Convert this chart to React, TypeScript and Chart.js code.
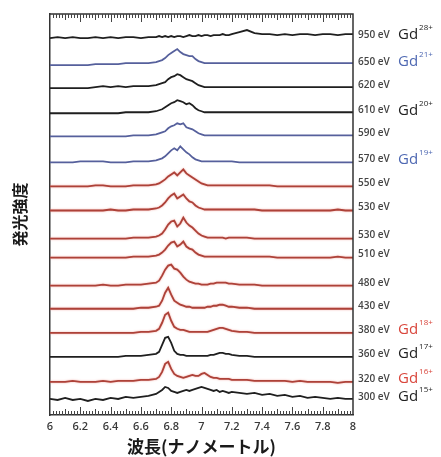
import React, { useEffect, useRef } from 'react';
import { Chart, registerables } from 'chart.js';

Chart.register(...registerables);

// Shared wavelength grid (nm)
const WAVELENGTH_NM = [
  6.0, 6.05, 6.1, 6.15, 6.2, 6.25, 6.3, 6.35, 6.4, 6.45, 6.5, 6.55, 6.6, 6.65,
  6.7, 6.72, 6.74, 6.76, 6.78, 6.8, 6.82, 6.84, 6.86, 6.88, 6.9, 6.92, 6.94, 6.96, 6.98, 7.0, 7.02, 7.04, 7.06, 7.08, 7.1, 7.12, 7.14, 7.16, 7.18, 7.2,
  7.25, 7.3, 7.35, 7.4, 7.45, 7.5, 7.55, 7.6, 7.65, 7.7, 7.75, 7.8, 7.85, 7.9, 7.95, 8.0,
];

// Electron beam energies, top to bottom
const ENERGY_LABELS = [
  '950 eV', '650 eV', '620 eV', '610 eV', '590 eV', '570 eV', '550 eV', '530 eV',
  '530 eV', '510 eV', '480 eV', '430 eV', '380 eV', '360 eV', '320 eV', '300 eV',
];

// Vertical stacking offsets (arbitrary intensity units)
const STACK_OFFSETS = [376, 349, 326, 301, 278, 252, 228, 204, 176, 157, 129, 106, 82, 58, 33, 15];

// Emission intensity above each trace's baseline
const I_950 = [
  0, 1, 0, 1, 0, 0, 1, 0, 1, 0, 1, 1, 0, 1,
  1, 2, 1, 2, 1, 2, 1, 2, 2, 1, 2, 3, 2, 2, 3, 2, 3, 3, 2, 3, 3, 3, 4, 3, 3, 4,
  6, 8, 5, 4, 4, 3, 4, 3, 4, 4, 3, 4, 4, 3, 4, 4,
];
const I_650 = [
  0, 0, 0, 0, 0, 0, 1, 1, 1, 1, 2, 2, 2, 2,
  3, 4, 5, 7, 10, 12, 14, 16, 13, 11, 10, 9, 9, 6, 4, 3, 2, 2, 2, 2, 2, 2, 2, 2, 2, 2,
  2, 2, 2, 2, 2, 2, 2, 2, 2, 2, 2, 2, 2, 2, 2, 2,
];
const I_620 = [
  0, 0, 0, 0, 0, 0, 1, 2, 1, 2, 1, 2, 2, 2,
  3, 4, 5, 6, 9, 11, 12, 14, 13, 11, 9, 8, 7, 5, 3, 2, 1, 1, 1, 1, 1, 1, 1, 1, 1, 1,
  1, 1, 1, 1, 1, 1, 1, 1, 1, 1, 1, 1, 1, 1, 1, 1,
];
const I_610 = [
  0, 0, 0, 0, 0, 0, 0, 0, 0, 0, 1, 1, 1, 1,
  2, 3, 4, 6, 8, 10, 11, 13, 12, 11, 9, 10, 8, 5, 3, 2, 1, 1, 1, 1, 1, 1, 1, 1, 1, 1,
  1, 1, 1, 1, 1, 1, 1, 1, 1, 1, 1, 1, 1, 1, 1, 1,
];
const I_590 = [
  0, 0, 0, 0, 0, 0, 0, 0, 0, 0, 0, 1, 1, 1,
  2, 3, 4, 5, 8, 10, 11, 13, 12, 13, 9, 8, 7, 5, 3, 2, 1, 1, 1, 1, 1, 1, 1, 1, 1, 1,
  1, 1, 1, 1, 1, 1, 1, 1, 1, 1, 1, 1, 1, 1, 1, 1,
];
const I_570 = [
  0, 0, 0, 0, 1, 1, 1, 1, 0, 0, 0, 1, 1, 1,
  2, 3, 4, 6, 9, 12, 14, 12, 16, 13, 10, 8, 5, 3, 2, 1, 1, 1, 1, 1, 1, 1, 1, 1, 1, 1,
  0, 0, 0, 0, 0, 0, 0, 0, 0, 0, 0, 0, 0, 0, 0, 0,
];
const I_550 = [
  0, 0, 0, 0, 0, 0, 1, 1, 0, 0, 0, 1, 1, 1,
  2, 3, 5, 7, 10, 12, 14, 11, 14, 17, 13, 11, 9, 7, 5, 3, 2, 1, 1, 1, 1, 1, 1, 1, 1, 1,
  1, 1, 1, 1, 1, 0, 0, 0, 0, 0, 0, 0, 0, 0, 0, 0,
];
const I_530A = [
  0, 0, 0, 0, 0, 0, 0, 0, 1, 0, 0, 1, 1, 1,
  2, 3, 5, 8, 12, 15, 17, 12, 14, 16, 12, 9, 8, 5, 3, 2, 1, 1, 1, 1, 1, 1, 1, 1, 1, 1,
  1, 1, 1, 0, 0, 0, 0, 0, 0, 0, 0, 0, 0, 1, 0, 0,
];
const I_530B = [
  0, 0, 0, 0, 0, 0, 0, 0, 0, 0, 0, 1, 1, 1,
  2, 3, 5, 9, 14, 17, 18, 12, 15, 21, 16, 13, 11, 8, 5, 3, 2, 1, 1, 1, 1, 1, 1, 0, 1, 1,
  1, 1, 0, 0, 0, 0, 0, 0, 0, 0, 0, 0, 0, 0, 0, 0,
];
const I_510 = [
  0, 0, 0, 0, 0, 0, 0, 0, 0, 0, 0, 1, 1, 1,
  2, 3, 5, 8, 12, 15, 16, 11, 13, 16, 11, 9, 8, 5, 3, 2, 1, 1, 1, 1, 1, 1, 1, 1, 1, 1,
  1, 1, 1, 1, 1, 0, 0, 0, 0, 0, 0, 0, 0, 1, 0, 0,
];
const I_480 = [
  0, 0, 0, 0, 0, 0, 0, 1, 0, 0, 1, 1, 1, 2,
  3, 5, 10, 16, 20, 21, 17, 16, 13, 9, 6, 4, 3, 2, 2, 1, 1, 1, 2, 2, 3, 3, 3, 3, 2, 2,
  1, 1, 1, 0, 0, 0, 0, 0, 0, 0, 0, 0, 0, 0, 0, 0,
];
const I_430 = [
  0, 0, 0, 0, 0, 0, 0, 0, 0, 0, 0, 0, 1, 1,
  2, 3, 8, 16, 21, 14, 8, 6, 4, 3, 2, 2, 1, 1, 1, 1, 1, 2, 2, 3, 3, 4, 4, 3, 2, 2,
  1, 1, 0, 0, 0, 0, 0, 0, 0, 0, 0, 0, 0, 0, 0, 0,
];
const I_380 = [
  0, 0, 0, 0, 0, 0, 0, 0, 0, 0, 0, 0, 1, 1,
  2, 4, 10, 18, 20, 12, 6, 4, 3, 3, 2, 1, 1, 1, 1, 1, 1, 1, 2, 3, 4, 5, 5, 4, 3, 2,
  1, 1, 0, 0, 0, 0, 0, 0, 0, 0, 0, 0, 0, 0, 0, 0,
];
const I_360 = [
  0, 0, 0, 0, 0, 0, 0, 0, 0, 0, 1, 1, 1, 2,
  3, 5, 12, 19, 20, 14, 6, 3, 2, 2, 1, 1, 1, 1, 1, 1, 1, 1, 2, 2, 3, 4, 4, 3, 3, 2,
  1, 1, 0, 0, 0, 0, 0, 0, 0, 0, 0, 0, 0, 0, 0, 0,
];
const I_320 = [
  0, 0, 0, 1, 0, 0, 0, 1, 0, 1, 1, 1, 2, 2,
  3, 5, 10, 18, 20, 13, 8, 6, 5, 4, 5, 6, 7, 6, 6, 8, 9, 7, 5, 4, 4, 3, 3, 3, 3, 2,
  2, 2, 1, 1, 1, 1, 1, 0, 1, 0, 0, 0, 0, -1, 0, 0,
];
const I_300 = [
  1, 0, 2, 0, 1, -1, 1, 0, 2, 1, 3, 2, 3, 4,
  6, 8, 10, 13, 12, 9, 8, 7, 8, 9, 10, 9, 10, 11, 12, 13, 12, 11, 10, 9, 10, 8, 9, 8, 7, 8,
  7, 6, 7, 5, 6, 4, 5, 3, 4, 2, 3, 2, 1, 2, 1, 1,
];

const INTENSITIES = [
  I_950, I_650, I_620, I_610, I_590, I_570, I_550, I_530A,
  I_530B, I_510, I_480, I_430, I_380, I_360, I_320, I_300,
];

// Charge-state annotations (row index into ENERGY_LABELS)
const ION_ROW = [0, 1, 3, 5, 12, 13, 14, 15];
const ION_CHARGE = ['28+', '21+', '20+', '19+', '18+', '17+', '16+', '15+'];

// ---- styles ----
const TONE: Record<string, string> = { k: '#1f1f1f', b: '#56609c', r: '#ad4239' };
const LABEL_TONE: Record<string, string> = { k: '#1f1f1f', b: '#4e68b2', r: '#d9463c' };
const SERIES_TONE = ['k', 'b', 'k', 'k', 'b', 'b', 'r', 'r', 'r', 'r', 'r', 'r', 'r', 'k', 'r', 'k'];
const ION_TONE = ['k', 'b', 'k', 'b', 'r', 'k', 'r', 'k'];

const SANS = '"Open Sans", "Noto Sans", sans-serif';
const CJK = '"Noto Sans CJK JP", "Noto Sans", sans-serif';

export default function App() {
  const ref = useRef<HTMLCanvasElement>(null);

  useEffect(() => {
    const canvas = ref.current;
    if (!canvas) return;

    const datasets = INTENSITIES.map((vals, i) => ({
      label: ENERGY_LABELS[i],
      data: WAVELENGTH_NM.map((x, j) => ({ x, y: STACK_OFFSETS[i] + vals[j] })),
      borderColor: TONE[SERIES_TONE[i]],
      borderWidth: 1.8,
      pointRadius: 0,
      tension: 0,
      fill: false,
    }));

    const decor = {
      id: 'decor',
      beforeDatasetDraw(chart: any, args: any) {
        const ctx = chart.ctx;
        ctx.save();
        if (SERIES_TONE[args.index] === 'r') {
          ctx.shadowColor = 'rgba(235,130,120,0.7)';
          ctx.shadowBlur = 2;
        }
      },
      afterDatasetDraw(chart: any) {
        chart.ctx.restore();
      },
      afterDraw(chart: any) {
        const { ctx, chartArea } = chart;
        const xs = chart.scales.x;
        const ys = chart.scales.y;
        const { left, right, top, bottom } = chartArea;
        ctx.save();
        // frame (top & right)
        ctx.strokeStyle = '#333';
        ctx.lineWidth = 1.5;
        ctx.beginPath();
        ctx.moveTo(left, top);
        ctx.lineTo(right, top);
        ctx.lineTo(right, bottom);
        ctx.stroke();
        // inward minor ticks top & bottom
        ctx.lineWidth = 1;
        ctx.strokeStyle = '#444';
        for (let k = 1; k < 100; k++) {
          const v = 6 + k * 0.02;
          const px = Math.round(xs.getPixelForValue(v)) + 0.5;
          const len = k % 10 === 0 ? 8 : k % 5 === 0 ? 6 : 4;
          ctx.beginPath();
          ctx.moveTo(px, top);
          ctx.lineTo(px, top + len);
          ctx.moveTo(px, bottom);
          ctx.lineTo(px, bottom - len);
          ctx.stroke();
        }
        // energy labels
        ctx.textBaseline = 'middle';
        ctx.textAlign = 'left';
        ENERGY_LABELS.forEach((lab, i) => {
          const y = ys.getPixelForValue(STACK_OFFSETS[i]) - 3;
          ctx.font = `600 10px ${SANS}`;
          ctx.fillStyle = '#444';
          ctx.fillText(lab, right + 5, y);
        });
        // ion labels
        ION_ROW.forEach((row, k) => {
          const y = ys.getPixelForValue(STACK_OFFSETS[row]) - 3;
          const x = right + 45;
          ctx.fillStyle = LABEL_TONE[ION_TONE[k]];
          ctx.font = `15px ${SANS}`;
          ctx.fillText('Gd', x, y);
          const w = ctx.measureText('Gd').width;
          ctx.font = `8px ${SANS}`;
          ctx.fillText(ION_CHARGE[k], x + w + 1, y - 7);
        });
        ctx.restore();
      },
    };

    const chart = new Chart(canvas, {
      type: 'line',
      data: { datasets },
      options: {
        animation: false,
        responsive: false,
        layout: { padding: { top: 14, right: 88, left: 0, bottom: 0 } },
        plugins: { legend: { display: false }, tooltip: { enabled: false } },
        scales: {
          x: {
            type: 'linear',
            min: 6,
            max: 8,
            afterFit: (s: any) => { s.height = 42; },
            ticks: {
              stepSize: 0.2,
              padding: 5,
              color: '#3a3a3a',
              autoSkip: false,
              maxRotation: 0,
              font: { family: SANS, size: 11, weight: '600' },
              callback: (v: any) => String(Number(Number(v).toFixed(1))),
            },
            grid: { display: true, drawOnChartArea: false, drawTicks: false },
            border: { display: true, color: '#333', width: 1.5 },
            title: {
              display: true,
              text: '波長(ナノメートル)',
              color: '#1a1a1a',
              padding: { top: 0, bottom: 0 },
              font: { family: CJK, size: 17, weight: 'bold' },
            },
          },
          y: {
            type: 'linear',
            min: 0,
            max: 400,
            afterFit: (s: any) => { s.width = 50; },
            ticks: { display: false },
            grid: { display: false, drawTicks: false },
            border: { display: true, color: '#333', width: 1.5 },
            title: {
              display: true,
              text: '発光強度',
              color: '#1a1a1a',
              padding: { top: 10, bottom: 0 },
              font: { family: CJK, size: 16, weight: 'bold' },
            },
          },
        },
      },
      plugins: [decor],
    } as any);

    return () => chart.destroy();
  }, []);

  return (
    <div style={{ position: 'fixed', left: 0, top: 0, width: 441, height: 457, background: '#fff' }}>
      <canvas ref={ref} width={441} height={457} style={{ display: 'block' }} />
    </div>
  );
}
